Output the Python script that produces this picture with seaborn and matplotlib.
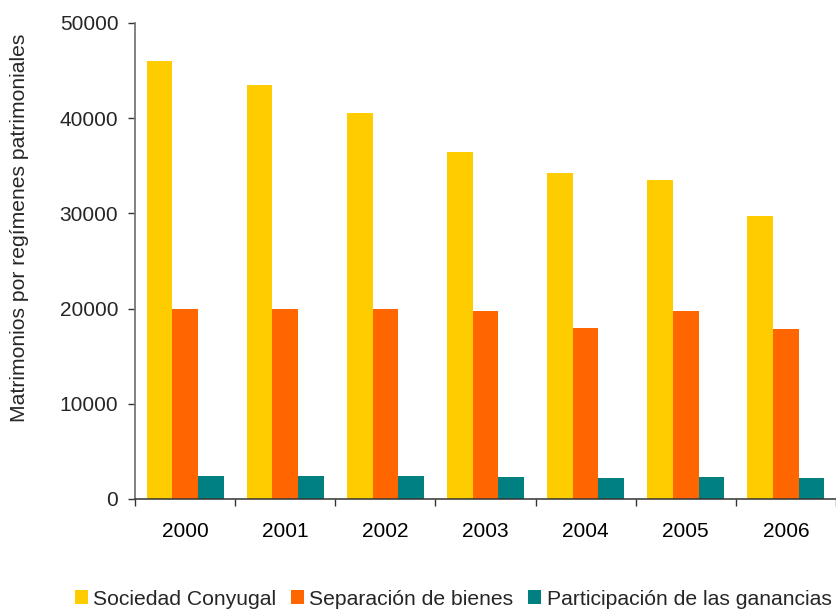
import matplotlib
matplotlib.use("Agg")
import matplotlib.pyplot as plt
import seaborn as sns
import pandas as pd
import numpy as np
from matplotlib.patches import Patch

years = ["2000", "2001", "2002", "2003", "2004", "2005", "2006"]
sociedad = [46000, 43500, 40500, 36500, 34200, 33500, 29700]
separacion = [20000, 20000, 20000, 19800, 18000, 19800, 17900]
participacion = [2450, 2450, 2450, 2350, 2250, 2350, 2250]
series_names = ["Sociedad Conyugal", "Separación de bienes", "Participación de las ganancias"]
colors = ["#FFCC00", "#FF6600", "#008080"]

df = pd.DataFrame({
    "year": years * 3,
    "value": sociedad + separacion + participacion,
    "serie": [series_names[0]] * 7 + [series_names[1]] * 7 + [series_names[2]] * 7,
})

sns.set_theme(style="white")
plt.rcParams["font.family"] = ["Liberation Sans", "DejaVu Sans"]

fig = plt.figure(figsize=(8.36, 6.09), dpi=100)
ax = fig.add_axes([135 / 836, 1 - 499 / 609, 1 - 135 / 836, (499 - 23) / 609])

sns.barplot(data=df, x="year", y="value", hue="serie", palette=colors,
            width=0.77, gap=0, saturation=1, ax=ax, legend=False)
for p in ax.patches:
    p.set_edgecolor("none")

ax.set_xlim(-0.5, 6.5)
ax.set_ylim(0, 50000)
ax.set_yticks(range(0, 50001, 10000))
ax.set_yticklabels([str(v) for v in range(0, 50001, 10000)], fontsize=15)
ax.set_xticks(range(7))
ax.set_xticklabels(years, fontsize=15)
ax.set_xticks(np.arange(-0.5, 7, 1), minor=True)
ax.tick_params(axis="x", which="major", length=0, pad=16.5, colors="black")
ax.tick_params(axis="x", which="minor", length=5, width=1, color="#333333", bottom=True)
ax.tick_params(axis="y", which="major", length=5, width=1, color="#333333", pad=7, left=True)
ax.set_xlabel("")
ax.set_ylabel("")
fig.text(20 / 836, 1 - 228 / 609, "Matrimonios por regímenes patrimoniales",
         rotation=90, ha="center", va="center", fontsize=15.2)

for s in ["top", "right"]:
    ax.spines[s].set_visible(False)
ax.spines["left"].set_color("#777777")
ax.spines["left"].set_linewidth(1.3)
ax.spines["bottom"].set_color("#333333")
ax.spines["bottom"].set_linewidth(1.1)

handles = [Patch(facecolor=c, edgecolor="none") for c in colors]
fig.legend(handles, series_names, loc="center", bbox_to_anchor=(0.542, 0.0164),
           ncol=3, frameon=False, fontsize=15.2, handlelength=0.62, handleheight=0.62,
           handletextpad=0.25, columnspacing=0.7, borderaxespad=0, borderpad=0)

fig.savefig("out.png", dpi=100)
